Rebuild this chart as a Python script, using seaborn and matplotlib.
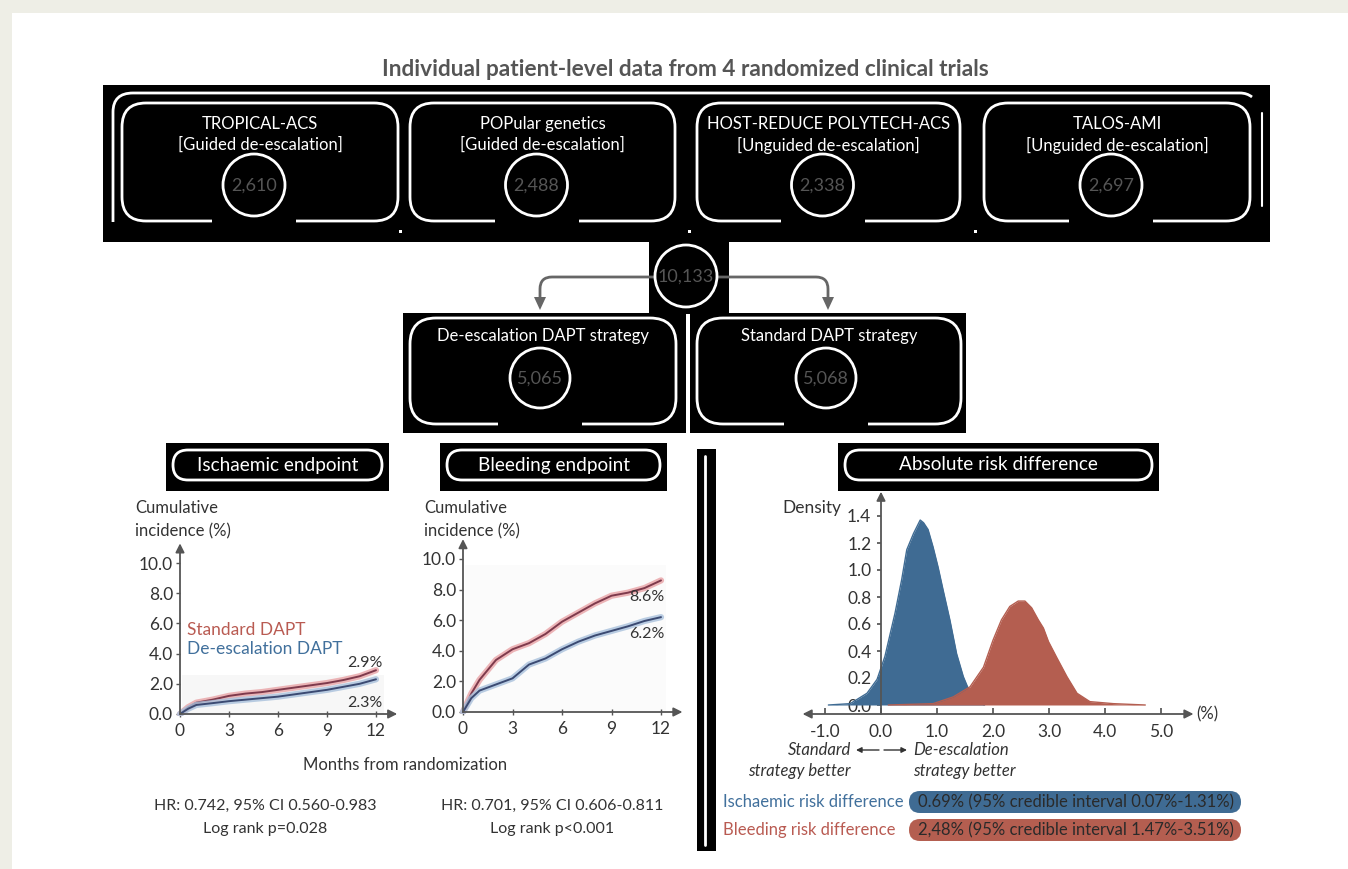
import matplotlib
matplotlib.use("Agg")
import matplotlib.pyplot as plt
from matplotlib.patches import FancyBboxPatch, Rectangle, Circle, Polygon, PathPatch
from matplotlib.path import Path
import seaborn as sns

sns.set_theme(style="white")
plt.rcParams['font.family'] = ['Lato', 'DejaVu Sans']

# ---------------- data ----------------
trial_names = ["TROPICAL-ACS", "POPular genetics", "HOST-REDUCE POLYTECH-ACS", "TALOS-AMI"]
trial_types = ["[Guided de-escalation]", "[Guided de-escalation]",
               "[Unguided de-escalation]", "[Unguided de-escalation]"]
trial_n = ["2,610", "2,488", "2,338", "2,697"]
total_n = "10,133"
arm_names = ["De-escalation DAPT strategy", "Standard DAPT strategy"]
arm_n = ["5,065", "5,068"]

months = [0, 0.5, 1, 2, 3, 4, 5, 6, 7, 8, 9, 10, 11, 12]
isch_standard = [0, 0.45, 0.75, 0.95, 1.2, 1.35, 1.45, 1.6, 1.75, 1.9, 2.05, 2.25, 2.5, 2.9]
isch_deesc = [0, 0.35, 0.6, 0.72, 0.85, 0.95, 1.05, 1.15, 1.3, 1.45, 1.6, 1.8, 2.0, 2.3]
bleed_standard = [0, 1.2, 2.1, 3.4, 4.1, 4.5, 5.1, 5.9, 6.5, 7.1, 7.6, 7.8, 8.1, 8.6]
bleed_deesc = [0, 0.9, 1.4, 1.8, 2.2, 3.1, 3.5, 4.1, 4.6, 5.0, 5.3, 5.6, 5.95, 6.2]
km_yticks = [0, 2, 4, 6, 8, 10]
km_xticks = [0, 3, 6, 9, 12]
isch_stats = ["HR: 0.742, 95% CI 0.560-0.983", "Log rank p=0.028"]
bleed_stats = ["HR: 0.701, 95% CI 0.606-0.811", "Log rank p<0.001"]

# posterior densities of the absolute risk difference (%)
isch_x = [-0.94, -0.55, -0.25, -0.07, 0.07, 0.25, 0.37, 0.46, 0.58, 0.70, 0.76, 0.84,
          0.93, 1.02, 1.11, 1.23, 1.35, 1.47, 1.59, 1.71, 1.85]
isch_d = [0.0, 0.01, 0.087, 0.19, 0.36, 0.68, 0.93, 1.15, 1.27, 1.37, 1.35, 1.30,
          1.17, 1.02, 0.85, 0.63, 0.38, 0.21, 0.09, 0.02, 0.0]
bleed_x = [0.13, 0.93, 1.29, 1.59, 1.83, 2.00, 2.15, 2.30, 2.45, 2.57, 2.69, 2.81,
           2.90, 2.99, 3.14, 3.32, 3.50, 3.73, 4.15, 4.72]
bleed_d = [0.0, 0.01, 0.06, 0.135, 0.28, 0.48, 0.63, 0.73, 0.77, 0.77, 0.72, 0.63,
           0.57, 0.47, 0.35, 0.21, 0.087, 0.025, 0.01, 0.0]
dens_xticks = [-1, 0, 1, 2, 3, 4, 5]
dens_yticks = [0, 0.2, 0.4, 0.6, 0.8, 1.0, 1.2, 1.4]
isch_diff = "0.69% (95% credible interval 0.07%-1.31%)"
bleed_diff = "2,48% (95% credible interval 1.47%-3.51%)"

RED = "#B45E50"
BLUE = "#3F6B93"
AX = "#555555"
TXT = "#333333"
NUM = "#555555"

W, H = 1348, 869
fig = plt.figure(figsize=(W / 100, H / 100), dpi=100)
fig.patch.set_facecolor("white")

bg = fig.add_axes([0, 0, 1, 1])
bg.set_xlim(0, W)
bg.set_ylim(H, 0)
bg.axis("off")

# page frame
bg.add_patch(Rectangle((0, 0), W, 13, fc="#EEEEE6", ec="none"))
bg.add_patch(Rectangle((0, 0), 12, H, fc="#EEEEE6", ec="none"))

bg.text(685, 70, "Individual patient-level data from 4 randomized clinical trials",
        ha="center", va="center", fontsize=16.3, fontweight="bold", color="#555555")


def rbox(x0, y0, x1, y1, gap_c, r=24, gap=42):
    bg.add_patch(FancyBboxPatch((x0, y0), x1 - x0, y1 - y0,
                                boxstyle=f"round,pad=0,rounding_size={r}",
                                fc="none", ec="white", lw=2, zorder=3))
    bg.add_patch(Rectangle((gap_c - gap, y1 - 4), 2 * gap, 8, fc="black", ec="none", zorder=4))


def node(cx, cy, label, r=31):
    bg.add_patch(Circle((cx, cy), r, fc="black", ec="white", lw=2, zorder=5))
    bg.text(cx, cy + 1, label, ha="center", va="center", fontsize=13, color=NUM, zorder=6)


# trial row
bg.add_patch(Rectangle((103, 85), 1167, 157, fc="black", ec="none", zorder=1))
outer = Path([(113, 222), (113, 112), (113, 93), (133, 93), (1240, 93), (1247, 93), (1252, 97)],
             [Path.MOVETO, Path.LINETO, Path.CURVE3, Path.CURVE3, Path.LINETO, Path.CURVE3, Path.CURVE3])
bg.add_patch(PathPatch(outer, fc="none", ec="white", lw=2, zorder=3))
bg.plot([1262, 1262], [113, 206], color="white", lw=1.5, zorder=3)
for dx in [400, 689, 975]:
    bg.add_patch(Rectangle((dx - 1, 230), 2.5, 2.5, fc="white", ec="none", zorder=3))

boxes = [(122, 398), (410, 675), (697, 960), (984, 1250)]
for (x0, x1), name, kind, n in zip(boxes, trial_names, trial_types, trial_n):
    cx = (x0 + x1) / 2
    rbox(x0, 103, x1, 221, cx - 6)
    bg.text(cx, 124, name, ha="center", va="center", fontsize=12, color="white", zorder=6)
    bg.text(cx, 145, kind, ha="center", va="center", fontsize=12, color="white", zorder=6)
    node(cx - 6, 185, n)

# pooled population and split
bg.add_patch(Rectangle((649, 240), 80, 74, fc="black", ec="none", zorder=1))
node(686, 276, total_n)
for sx, tx in [(654, 540), (718, 828)]:
    s = -1 if tx < sx else 1
    p = Path([(sx, 277), (tx - s * 12, 277), (tx, 277), (tx, 289), (tx, 299)],
             [Path.MOVETO, Path.LINETO, Path.CURVE3, Path.CURVE3, Path.LINETO])
    bg.add_patch(PathPatch(p, fc="none", ec="#666666", lw=2, zorder=2))
    bg.add_patch(Polygon([(tx - 6, 297), (tx + 6, 297), (tx, 310)], fc="#666666", ec="none", zorder=2))

bg.add_patch(Rectangle((403, 313), 283, 120, fc="black", ec="none", zorder=1))
bg.add_patch(Rectangle((690, 313), 276, 120, fc="black", ec="none", zorder=1))
for (x0, x1), name, n in zip([(410, 676), (697, 961)], arm_names, arm_n):
    cx = (x0 + x1) / 2
    rbox(x0, 318, x1, 424, cx - 3, r=26)
    bg.text(cx, 336, name, ha="center", va="center", fontsize=12, color="white", zorder=6)
    node(cx - 3, 378, n, r=30)

# section headers
for (x0, x1), label in [((166, 389), "Ischaemic endpoint"),
                        ((440, 667), "Bleeding endpoint"),
                        ((838, 1159), "Absolute risk difference")]:
    bg.add_patch(Rectangle((x0, 443), x1 - x0, 48, fc="black", ec="none", zorder=1))
    bg.add_patch(FancyBboxPatch((x0 + 7, 450), x1 - x0 - 14, 30,
                                boxstyle="round,pad=0,rounding_size=15",
                                fc="none", ec="white", lw=2, zorder=3))
    bg.text((x0 + x1) / 2, 465, label, ha="center", va="center", fontsize=13.7,
            color="white", zorder=6)

# divider
bg.add_patch(Rectangle((697, 449), 19, 402, fc="black", ec="none", zorder=1))
bg.plot([705, 705], [456, 845], color="white", lw=2, zorder=3)


def px_axes(left, right, top, bottom):
    return fig.add_axes([left / W, 1 - bottom / H, (right - left) / W, (bottom - top) / H])


def arrow(ax, start, end, style="-|>"):
    ax.annotate("", xy=end, xytext=start, xycoords="data", textcoords="data",
                arrowprops=dict(arrowstyle=style, color=AX, lw=1.3, shrinkA=0, shrinkB=0,
                                mutation_scale=13), annotation_clip=False)


def km_panel(left, x12, top_px, y0px, y10px, std, dsc):
    sx = (x12 - left) / 12.0
    sy = (y0px - y10px) / 10.0
    ax = px_axes(left - 0.6 * sx, left + 13.4 * sx, y0px - 11.4 * sy, y0px + 0.1 * sy)
    ax.set_xlim(-0.6, 13.4)
    ax.set_ylim(-0.1, 11.4)
    ax.patch.set_alpha(0)
    for sp in ax.spines.values():
        sp.set_visible(False)
    ax.spines["left"].set_position(("data", 0))
    ax.spines["bottom"].set_position(("data", 0))
    arrow(ax, (0, 0), (0, 11.3))
    arrow(ax, (0, 0), (13.3, 0))
    for vals, halo, core in [(std, "#E9A3A6", "#7E3A4C"), (dsc, "#A9C1DC", "#3B4A72")]:
        sns.lineplot(x=months, y=vals, ax=ax, color=halo, lw=4.5, alpha=0.8)
        sns.lineplot(x=months, y=vals, ax=ax, color=core, lw=1.4)
    ax.set_xticks(km_xticks)
    ax.set_xticklabels([str(t) for t in km_xticks])
    ax.set_yticks(km_yticks)
    ax.set_yticklabels([f"{t:.1f}" for t in km_yticks])
    ax.tick_params(axis="both", which="both", length=3, width=1, color=AX,
                   labelsize=12.5, labelcolor=TXT, pad=2, left=True, bottom=True)
    ax.tick_params(axis="x", direction="inout", length=5, pad=4)
    ax.set_xlabel("")
    ax.set_ylabel("")
    return ax


ax1 = km_panel(180, 376, 545, 714, 563, isch_standard, isch_deesc)
ax1.add_patch(Rectangle((0.1, 0), 12.4, 2.6, fc="#F7F7F7", ec="none", zorder=0))
ax1.text(0.45, 5.55, "Standard DAPT", color="#B95B52", fontsize=12.5, va="center")
ax1.text(0.45, 4.3, "De-escalation DAPT", color="#41709C", fontsize=12.5, va="center")
ax1.text(12.4, isch_standard[-1] + 0.45, f"{isch_standard[-1]:.1f}%", ha="right",
         va="center", fontsize=11.5, color=TXT)
ax1.text(12.4, isch_deesc[-1] - 1.55, f"{isch_deesc[-1]:.1f}%", ha="right",
         va="center", fontsize=11.5, color=TXT)

ax2 = km_panel(463, 661, 540, 712, 559, bleed_standard, bleed_deesc)
ax2.add_patch(Rectangle((0.1, 0), 12.2, 9.6, fc="#FBFBFB", ec="none", zorder=0))
ax2.text(12.2, bleed_standard[-1] - 1.1, f"{bleed_standard[-1]:.1f}%", ha="right",
         va="center", fontsize=11.5, color=TXT)
ax2.text(12.2, bleed_deesc[-1] - 1.1, f"{bleed_deesc[-1]:.1f}%", ha="right",
         va="center", fontsize=11.5, color=TXT)

for x in (135, 424):
    bg.text(x, 508, "Cumulative", ha="left", va="center", fontsize=12, color=TXT)
    bg.text(x, 531, "incidence (%)", ha="left", va="center", fontsize=12, color=TXT)
bg.text(405, 765, "Months from randomization", ha="center", va="center", fontsize=12, color=TXT)
for cx, lines in [(265, isch_stats), (552, bleed_stats)]:
    bg.text(cx, 806, lines[0], ha="center", va="center", fontsize=11.5, color=TXT)
    bg.text(cx, 829, lines[1], ha="center", va="center", fontsize=11.5, color=TXT)

# posterior density panel
xs, ys = 56.0, 135.0
x0px, y0px = 881, 705
ax3 = px_axes(800, 1195, 490, 714)
ax3.set_xlim((800 - x0px) / xs, (1195 - x0px) / xs)
ax3.set_ylim((y0px - 714) / ys, (y0px - 490) / ys)
ax3.patch.set_alpha(0)
for sp in ax3.spines.values():
    sp.set_visible(False)
ax3.spines["left"].set_position(("data", 0))
ybot = (y0px - 714) / ys
ax3.fill_between(isch_x, 0, isch_d, color=BLUE, lw=0, zorder=2)
sns.lineplot(x=isch_x, y=isch_d, ax=ax3, color=BLUE, lw=1, zorder=2)
ax3.fill_between(bleed_x, 0, bleed_d, color=RED, lw=0, zorder=3)
sns.lineplot(x=bleed_x, y=bleed_d, ax=ax3, color=RED, lw=1, zorder=3)
arrow(ax3, (-1.4, ybot), (5.58, ybot), style="<|-|>")
arrow(ax3, (0, ybot), (0, 1.58))
ax3.set_xticks(dens_xticks)
ax3.set_xticklabels([f"{t:.1f}" for t in dens_xticks])
ax3.set_yticks(dens_yticks)
ax3.set_yticklabels([f"{t:.1f}" for t in dens_yticks])
ax3.tick_params(axis="y", left=True, length=3, color=AX, labelsize=12.5, labelcolor=TXT, pad=4)
ax3.tick_params(axis="x", bottom=True, direction="in", length=4, color=AX,
                labelsize=12.5, labelcolor=TXT, pad=7)
ax3.set_xlabel("")
ax3.set_ylabel("")
bg.text(1196, 714, "(%)", ha="left", va="center", fontsize=12, color=TXT)
bg.text(782, 508, "Density", ha="left", va="center", fontsize=12.5, color=TXT)

bg.text(851, 750, "Standard", ha="right", va="center", fontsize=12, style="italic", color=TXT)
bg.text(851, 771, "strategy better", ha="right", va="center", fontsize=12, style="italic", color=TXT)
bg.text(913, 750, "De-escalation", ha="left", va="center", fontsize=12, style="italic", color=TXT)
bg.text(913, 771, "strategy better", ha="left", va="center", fontsize=12, style="italic", color=TXT)
bg.annotate("", xy=(856, 750), xytext=(879, 750),
            arrowprops=dict(arrowstyle="-|>", color="#333333", lw=1, mutation_scale=8, shrinkA=0, shrinkB=0))
bg.annotate("", xy=(907, 750), xytext=(884, 750),
            arrowprops=dict(arrowstyle="-|>", color="#333333", lw=1, mutation_scale=8, shrinkA=0, shrinkB=0))

for y, label, col, val in [(802, "Ischaemic risk difference", "#41709C", isch_diff),
                           (830, "Bleeding risk difference", "#B95B52", bleed_diff)]:
    bg.text(723, y, label, ha="left", va="center", fontsize=12, color=col)
    bg.add_patch(FancyBboxPatch((909, y - 11), 332, 22, boxstyle="round,pad=0,rounding_size=11",
                                fc=BLUE if col == "#41709C" else RED, ec="none", zorder=2))
    bg.text(918, y, val, ha="left", va="center", fontsize=12, color="#2A2A2A", zorder=3)

fig.savefig("out.png", dpi=100)
